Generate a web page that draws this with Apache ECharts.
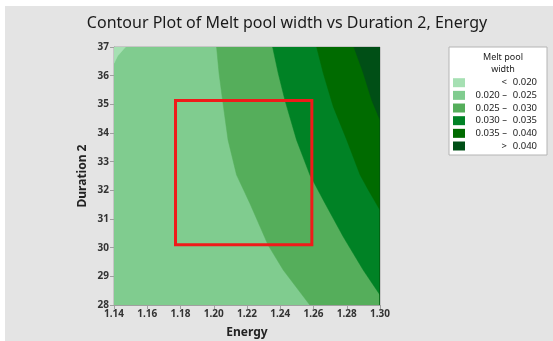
<!DOCTYPE html>
<html>
<head>
<meta charset="utf-8">
<script src="https://cdn.jsdelivr.net/npm/echarts@6/dist/echarts.min.js"></script>
<style>
html,body{margin:0;padding:0;background:#fff;}
#c{width:553px;height:341px;}
</style>
</head>
<body>
<div id="c"></div>
<script>
// ---- Data ----
const titleText = 'Contour Plot of Melt pool width vs Duration 2, Energy';
const xName = 'Energy';
const yName = 'Duration 2';
const xRange = [1.14, 1.30];
const yRange = [28, 37];
const legendTitle = ['Melt pool', 'width'];
const levelLeft = ['<', '0.020 \u2013', '0.025 \u2013', '0.030 \u2013', '0.035 \u2013', '>'];
const levelRight = ['0.020', '0.025', '0.030', '0.035', '0.040', '0.040'];
const levelColors = ['#a6e0b3', '#80cc8f', '#55ae5b', '#008225', '#006b00', '#004f16'];

// contour boundaries [Energy, Duration 2]
const edgeLt020 = [[1.14, 36.43], [1.1422, 36.69], [1.1469, 37]];
const edge025 = [[1.2017, 37], [1.2032, 36.08], [1.2053, 35.15], [1.2086, 33.76], [1.2137, 32.54], [1.2217, 31.55], [1.2327, 30.09], [1.2418, 29.22], [1.2578, 28]];
const edge030 = [[1.2354, 37], [1.2388, 36.08], [1.2428, 35.15], [1.2498, 33.76], [1.2578, 32.54], [1.2669, 31.55], [1.2779, 30.38], [1.2899, 29.22], [1.30, 28.35]];
const edge035 = [[1.2619, 37], [1.2659, 36.08], [1.2719, 34.92], [1.28, 33.76], [1.288, 32.54], [1.293, 32.01], [1.30, 31.31]];
const edge040 = [[1.2843, 37], [1.29, 36.08], [1.295, 35.15], [1.30, 34.45]];

// highlighted region [Energy min, Duration min, Energy max, Duration max]
const redBox = [1.177, 30.1, 1.259, 35.13];

// ---- Build polygons ----
const [xMin, xMax] = xRange;
const [yMin, yMax] = yRange;
const polys = [
  { pts: [[xMin, yMin], [xMax, yMin], [xMax, yMax], [xMin, yMax]], level: 1 },
  { pts: edgeLt020.concat([[xMin, yMax]]), level: 0 },
  { pts: edge025.concat([[xMax, yMin], [xMax, yMax]]), level: 2 },
  { pts: edge030.concat([[xMax, yMin], [xMax, yMax]]), level: 3 },
  { pts: edge035.concat([[xMax, yMin], [xMax, yMax]]), level: 4 },
  { pts: edge040.concat([[xMax, yMin], [xMax, yMax]]), level: 5 }
];

const chart = echarts.init(document.getElementById('c'));
const FONT = 'Noto Sans';

// legend graphics
const legendEls = [];
const lgX = 449, lgY = 47, lgW = 98, lgH = 108;
legendEls.push({ type: 'rect', shape: { x: lgX, y: lgY, width: lgW, height: lgH }, style: { fill: '#fff', stroke: '#b4b4b4', lineWidth: 1 } });
legendTitle.forEach((t, i) => legendEls.push({
  type: 'text', x: 503, y: 57 + i * 12.5,
  style: { text: t, fill: '#222', font: '9px "' + FONT + '"', align: 'center', verticalAlign: 'middle' }
}));
levelColors.forEach((c, i) => {
  const cy = 82.7 + i * 12.66;
  legendEls.push({ type: 'rect', shape: { x: 453, y: cy - 4.5, width: 12, height: 9 }, style: { fill: c } });
  legendEls.push({ type: 'text', x: 507, y: cy, style: { text: levelLeft[i], fill: '#222', font: '9.5px "' + FONT + '"', align: 'right', verticalAlign: 'middle' } });
  legendEls.push({ type: 'text', x: 537, y: cy, style: { text: levelRight[i], fill: '#222', font: '9.5px "' + FONT + '"', align: 'right', verticalAlign: 'middle' } });
});

const option = {
  animation: false,
  backgroundColor: '#ffffff',
  title: {
    text: titleText, left: 282, top: 10, textAlign: 'center',
    textStyle: { fontFamily: FONT, fontSize: 16, fontWeight: 'normal', color: '#1a1a1a' }
  },
  grid: { left: 114, top: 47, right: 173, bottom: 36, outerBoundsMode: 'none', containLabel: false, show: true, borderColor: '#a8a8a8', borderWidth: 1, backgroundColor: 'transparent' },
  xAxis: {
    type: 'value', min: xMin, max: xMax, interval: 0.02,
    name: xName, nameLocation: 'middle', nameGap: 22,
    nameTextStyle: { fontFamily: FONT, fontSize: 12, fontWeight: 'bold', color: '#222' },
    axisLine: { show: true, onZero: false, lineStyle: { color: '#a0a0a0' } },
    axisTick: { show: true, length: 4, lineStyle: { color: '#a0a0a0' } },
    axisLabel: { fontFamily: FONT, fontSize: 10, fontWeight: 'bold', color: '#333', margin: 4, formatter: v => v.toFixed(2) },
    splitLine: { show: false }
  },
  yAxis: {
    type: 'value', min: yMin, max: yMax, interval: 1,
    name: yName, nameLocation: 'middle', nameGap: 25, nameRotate: 90,
    nameTextStyle: { fontFamily: FONT, fontSize: 12, fontWeight: 'bold', color: '#222' },
    axisLine: { show: true, onZero: false, lineStyle: { color: '#a0a0a0' } },
    axisTick: { show: true, length: 4, lineStyle: { color: '#a0a0a0' } },
    axisLabel: { fontFamily: FONT, fontSize: 10, fontWeight: 'bold', color: '#333', margin: 5 },
    splitLine: { show: false }
  },
  graphic: [
    { type: 'rect', z: -10, silent: true, shape: { x: 5, y: 6, width: 548, height: 335 }, style: { fill: '#e4e4e4' } }
  ].concat(legendEls),
  series: [
    {
      type: 'custom', clip: true, z: 1,
      data: polys.map((p, i) => [i]),
      renderItem: function (params, api) {
        const p = polys[params.dataIndex];
        return {
          type: 'polygon',
          shape: { points: p.pts.map(pt => api.coord(pt)) },
          style: { fill: levelColors[p.level], stroke: levelColors[p.level], lineWidth: 0.5 }
        };
      }
    },
    {
      type: 'custom', clip: true, z: 5,
      data: [redBox],
      renderItem: function (params, api) {
        const a = api.coord([redBox[0], redBox[3]]);
        const b = api.coord([redBox[2], redBox[1]]);
        return {
          type: 'rect',
          shape: { x: a[0], y: a[1], width: b[0] - a[0], height: b[1] - a[1] },
          style: { fill: 'none', stroke: '#f01a1a', lineWidth: 3 }
        };
      }
    }
  ]
};
chart.setOption(option);
</script>
</body>
</html>
